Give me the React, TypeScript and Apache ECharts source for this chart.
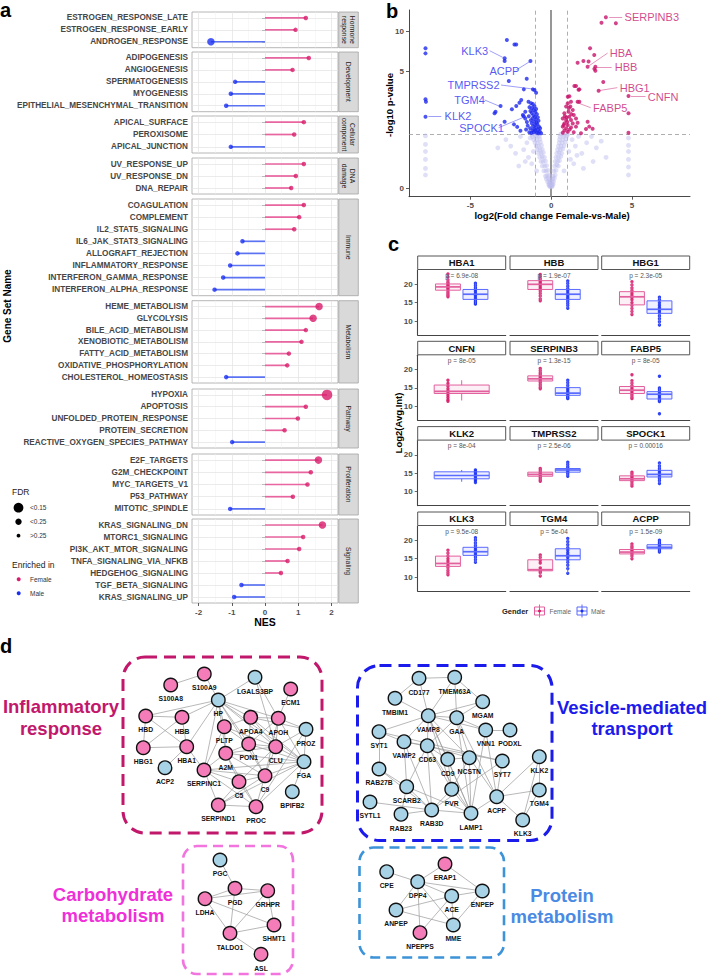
import React, { useEffect, useRef } from "react";
import * as echarts from "echarts";

const FONT = "'Liberation Sans', Arial, Helvetica, sans-serif";

// ---------------- Panel a : GSEA lollipops ----------------
const hormoneSets = ["ESTROGEN_RESPONSE_LATE", "ESTROGEN_RESPONSE_EARLY", "ANDROGEN_RESPONSE"];
const hormoneNES = [1.23, 0.92, -1.63];
const hormoneFDR = [">0.25", ">0.25", "<0.25"];
const developmentSets = ["ADIPOGENESIS", "ANGIOGENESIS", "SPERMATOGENESIS", "MYOGENESIS", "EPITHELIAL_MESENCHYMAL_TRANSITION"];
const developmentNES = [1.32, 0.83, -0.9, -1.03, -1.17];
const developmentFDR = [">0.25", ">0.25", ">0.25", ">0.25", ">0.25"];
const cellularSets = ["APICAL_SURFACE", "PEROXISOME", "APICAL_JUNCTION"];
const cellularNES = [1.17, 0.88, -1.03];
const cellularFDR = [">0.25", ">0.25", ">0.25"];
const dnaSets = ["UV_RESPONSE_UP", "UV_RESPONSE_DN", "DNA_REPAIR"];
const dnaNES = [1.17, 0.93, 0.79];
const dnaFDR = [">0.25", ">0.25", ">0.25"];
const immuneSets = ["COAGULATION", "COMPLEMENT", "IL2_STAT5_SIGNALING", "IL6_JAK_STAT3_SIGNALING", "ALLOGRAFT_REJECTION", "INFLAMMATORY_RESPONSE", "INTERFERON_GAMMA_RESPONSE", "INTERFERON_ALPHA_RESPONSE"];
const immuneNES = [1.17, 1.03, 0.88, -0.68, -0.83, -1.05, -1.26, -1.52];
const immuneFDR = [">0.25", ">0.25", ">0.25", ">0.25", ">0.25", ">0.25", ">0.25", ">0.25"];
const metabolismSets = ["HEME_METABOLISM", "GLYCOLYSIS", "BILE_ACID_METABOLISM", "XENOBIOTIC_METABOLISM", "FATTY_ACID_METABOLISM", "OXIDATIVE_PHOSPHORYLATION", "CHOLESTEROL_HOMEOSTASIS"];
const metabolismNES = [1.63, 1.45, 1.23, 1.1, 0.72, 0.67, -1.17];
const metabolismFDR = ["<0.25", "<0.25", ">0.25", ">0.25", ">0.25", ">0.25", ">0.25"];
const pathwaySets = ["HYPOXIA", "APOPTOSIS", "UNFOLDED_PROTEIN_RESPONSE", "PROTEIN_SECRETION", "REACTIVE_OXYGEN_SPECIES_PATHWAY"];
const pathwayNES = [1.87, 1.23, 0.99, 0.59, -0.99];
const pathwayFDR = ["<0.15", ">0.25", ">0.25", ">0.25", ">0.25"];
const proliferationSets = ["E2F_TARGETS", "G2M_CHECKPOINT", "MYC_TARGETS_V1", "P53_PATHWAY", "MITOTIC_SPINDLE"];
const proliferationNES = [1.61, 1.38, 1.28, 0.84, -1.05];
const proliferationFDR = ["<0.25", ">0.25", ">0.25", ">0.25", ">0.25"];
const signalingSets = ["KRAS_SIGNALING_DN", "MTORC1_SIGNALING", "PI3K_AKT_MTOR_SIGNALING", "TNFA_SIGNALING_VIA_NFKB", "HEDGEHOG_SIGNALING", "TGF_BETA_SIGNALING", "KRAS_SIGNALING_UP"];
const signalingNES = [1.73, 1.15, 1.03, 0.68, 0.48, -0.71, -0.93];
const signalingFDR = ["<0.25", ">0.25", ">0.25", ">0.25", ">0.25", ">0.25", ">0.25"];
const nesTicks = [-2, -1, 0, 1, 2];
const nesMinor = [-1.5, -0.5, 0.5, 1.5];

// ---------------- Panel b : volcano ----------------
const volcanoMale = [
  [-7.78, 7.5], [-7.78, 6.86], [-7.78, 2.89], [-7.75, 2.75], [-7.78, 1.98],
  [-2.74, 8.64], [-2.27, 8.0], [-2.16, 8.0], [-2.88, 6.29], [-2.88, 6.0], [-1.28, 6.0], [-2.62, 4.15], [-1.51, 4.33],
  [-1.69, 3.53], [-1.13, 3.53], [-1.03, 3.48], [-0.93, 3.3], [-3.13, 2.51], [-3.44, 2.22], [-3.5, 2.14], [-2.43, 2.34],
  [-2.16, 2.51], [-2.88, 1.76], [-1.96, 2.69], [-1.85, 2.85], [-1.4, 2.75], [-1.75, 2.06], [-1.6, 2.22],
  [-1.24, 2.66], [-1.13, 2.62], [-1.03, 2.5], [-1.34, 2.45], [-1.18, 2.4], [-0.93, 2.35], [-1.08, 2.3], [-1.28, 2.25],
  [-0.98, 2.2], [-1.2, 2.15], [-0.88, 2.1], [-1.1, 2.05], [-1.38, 2.0], [-1.0, 1.98], [-0.82, 1.95], [-1.15, 1.9],
  [-0.95, 1.86], [-1.25, 1.82], [-0.78, 1.8], [-1.05, 1.76], [-0.9, 1.72], [-1.2, 1.7], [-0.85, 1.66], [-1.0, 1.62],
  [-1.12, 1.58], [-0.75, 1.56], [-0.93, 1.52], [-1.3, 1.5], [-1.05, 1.47], [-0.82, 1.44], [-1.15, 1.42], [-0.97, 1.4],
  [-0.7, 1.38], [-1.08, 1.35], [-0.88, 1.33], [-1.22, 1.32], [-0.62, 1.31], [-0.78, 1.31], [-1.5, 1.75], [-1.6, 1.9],
  [-1.7, 2.0], [-2.1, 1.55], [-1.45, 1.6], [-1.55, 1.45], [-0.68, 1.5], [-2.3, 1.65], [-1.9, 1.4], [-1.35, 1.35],
];
const volcanoFemale = [
  [3.39, 12.65], [3.12, 11.57], [4.01, 11.45], [2.41, 7.5], [2.67, 6.67], [1.64, 5.81], [2.0, 6.0], [2.32, 5.94],
  [2.26, 5.41], [2.74, 5.41], [2.74, 5.03], [2.68, 5.2], [3.23, 4.07], [2.94, 3.44], [4.79, 3.09], [4.79, 2.14],
  [4.79, 1.33], [1.54, 3.77], [1.44, 3.77], [1.75, 3.53], [1.7, 3.5], [1.03, 3.05], [1.13, 3.08], [1.64, 2.75],
  [1.75, 2.75], [1.23, 2.75], [1.03, 2.66], [1.19, 2.48], [0.93, 2.48], [1.34, 2.3], [1.08, 2.22], [0.82, 2.14],
  [1.4, 2.06], [1.13, 1.98], [0.72, 1.9], [0.93, 1.83], [1.23, 1.83], [1.54, 1.9], [0.82, 1.69], [1.03, 1.62],
  [1.34, 1.69], [1.64, 1.72], [0.72, 1.56], [0.93, 1.5], [1.23, 1.53], [1.54, 1.56], [0.82, 1.41], [1.03, 1.37],
  [0.72, 1.33], [1.4, 1.35], [1.85, 1.31], [2.26, 1.76], [2.36, 1.56], [2.57, 1.48], [2.16, 1.47], [0.95, 1.95],
  [1.1, 2.4], [0.85, 2.0], [1.0, 1.75], [1.15, 1.45], [0.78, 1.62], [1.25, 2.1],
];
const volcanoOther = [
  [-0.05, 0.02], [0.03, 0.02], [-0.1, 0.03], [0.08, 0.03], [-0.15, 0.05], [-0.08, 0.06], [0.05, 0.05], [0.12, 0.06], [0.0, 0.04],
  [-0.22, 0.1], [-0.12, 0.09], [-0.04, 0.1], [0.06, 0.1], [0.15, 0.1], [-0.3, 0.15], [-0.18, 0.16], [-0.08, 0.14], [0.1, 0.15], [0.2, 0.16],
  [-0.35, 0.2], [-0.25, 0.21], [-0.12, 0.22], [0.12, 0.2], [0.25, 0.22], [-0.45, 0.3], [-0.32, 0.3], [-0.2, 0.31], [0.16, 0.3], [0.3, 0.31],
  [-0.55, 0.4], [-0.4, 0.4], [-0.28, 0.41], [0.22, 0.4], [0.35, 0.42], [0.45, 0.4], [-0.62, 0.5], [-0.5, 0.5], [-0.35, 0.51], [0.25, 0.5],
  [0.4, 0.5], [0.52, 0.52], [-0.7, 0.6], [-0.55, 0.61], [-0.42, 0.6], [0.3, 0.6], [0.45, 0.6], [0.6, 0.62], [-0.78, 0.7], [-0.62, 0.7],
  [-0.48, 0.72], [0.35, 0.7], [0.5, 0.71], [0.65, 0.7], [-0.85, 0.8], [-0.7, 0.8], [-0.55, 0.81], [0.4, 0.8], [0.57, 0.8], [0.72, 0.82],
  [-0.92, 0.9], [-0.78, 0.9], [-0.6, 0.92], [0.45, 0.9], [0.62, 0.9], [0.8, 0.91], [-1.0, 1.0], [-0.85, 1.0], [-0.66, 1.02], [0.5, 1.0],
  [0.68, 1.0], [0.88, 1.02], [-1.08, 1.1], [-0.9, 1.1], [-0.7, 1.12], [0.52, 1.1], [0.72, 1.1], [0.92, 1.12], [-1.15, 1.2], [-0.95, 1.2],
  [-0.75, 1.21], [0.55, 1.2], [0.78, 1.2], [0.98, 1.22], [-1.2, 1.28], [-1.0, 1.27], [-0.8, 1.28], [0.6, 1.28], [0.8, 1.27], [1.02, 1.28],
  [-7.78, 1.22], [-7.78, 0.95], [-7.78, 0.75], [-7.78, 0.55], [-7.78, 0.35], [-7.78, 0.22], [4.79, 1.15], [4.79, 0.92], [4.79, 0.75],
  [4.79, 0.55], [4.79, 0.38], [4.79, 0.22], [-2.8, 1.1], [-2.5, 0.9], [-2.2, 0.7], [-1.9, 1.2], [-1.7, 0.8], [-1.5, 1.0], [-1.4, 0.6],
  [-1.3, 1.15], [-3.3, 0.85], [-1.6, 0.5], [-1.2, 0.45], [-2.0, 0.4], [-1.1, 0.75], [-0.9, 0.3], [1.3, 1.1], [1.5, 0.9], [1.7, 1.2],
  [1.9, 0.7], [2.2, 1.0], [2.5, 1.2], [2.8, 0.85], [3.1, 1.05], [3.4, 0.6], [1.2, 0.55], [1.4, 0.45], [2.0, 0.35], [0.8, 0.3],
  [1.1, 0.75], [2.6, 0.5], [1.6, 0.65],
];
const volcanoLabels = ["KLK3", "ACPP", "TMPRSS2", "TGM4", "KLK2", "SPOCK1", "SERPINB3", "HBA", "HBB", "HBG1", "CNFN", "FABP5"];
const volcanoLabelAt = [[-5.6, 7.19], [-3.85, 5.03], [-6.44, 3.84], [-6.03, 2.85], [-6.63, 2.01], [-5.72, 1.52], [4.52, 12.65], [3.6, 6.94], [3.91, 5.41], [4.22, 3.65], [5.96, 3.01], [2.57, 2.42]];
const volcanoLeaders = [
  [[-3.81, 7.19], [-3.0, 6.4]], [[-2.16, 5.1], [-1.35, 5.9]], [[-3.1, 3.84], [-1.1, 3.55]], [[-4.12, 2.85], [-3.2, 2.5]],
  [[-7.6, 2.0], [-6.8, 2.0]], [[-3.25, 1.52], [-1.55, 2.0]], [[3.6, 12.65], [4.4, 12.65]], [[3.5, 6.9], [2.35, 5.5]],
  [[3.75, 5.4], [2.8, 5.4]], [[4.1, 3.65], [3.0, 3.45]], [[5.85, 3.05], [4.95, 3.05]], [[2.45, 2.42], [1.55, 2.72]],
];
const volcanoXTicks = [-5, 0, 5];
const volcanoYTicks = [0, 5, 10];

// ---------------- Panel c : boxplots ----------------
const boxGenes = ["HBA1", "HBB", "HBG1", "CNFN", "SERPINB3", "FABP5", "KLK2", "TMPRSS2", "SPOCK1", "KLK3", "TGM4", "ACPP"];
const boxPvalues = ["p = 6.9e-08", "p = 1.9e-07", "p = 2.3e-05", "p = 8e-05", "p = 1.3e-15", "p = 8e-05", "p = 8e-04", "p = 2.5e-06", "p = 0.00016", "p = 9.5e-08", "p = 5e-04", "p = 1.5e-09"];
const femaleBox = [
  [16.6, 18.4, 19.3, 20.1, 22.8], [15.5, 18.6, 20.0, 21.0, 22.7], [11.8, 14.4, 16.6, 18.0, 20.7], [11.6, 13.5, 14.1, 15.8, 17.1],
  [14.8, 16.9, 17.5, 18.3, 20.3], [12.1, 13.5, 14.4, 15.4, 17.0], null, [12.8, 14.2, 14.7, 15.3, 16.3],
  [11.5, 13.0, 13.5, 14.3, 15.3], [10.6, 12.9, 13.7, 15.7, 17.3], [10.3, 11.7, 12.0, 14.7, 16.0], [15.0, 16.3, 16.8, 17.5, 19.0],
];
const maleBox = [
  [14.6, 15.9, 17.3, 18.6, 20.3], [13.5, 15.9, 17.3, 18.6, 20.9], [8.9, 12.1, 13.2, 15.5, 16.5], null,
  [12.1, 13.0, 13.6, 15.1, 17.1], [11.3, 12.0, 13.3, 14.0, 15.0], [12.7, 13.5, 14.4, 15.4, 15.9], [14.2, 15.3, 15.9, 16.3, 18.0],
  [12.2, 14.0, 14.7, 15.8, 17.8], [14.0, 15.9, 16.9, 18.1, 20.7], [11.0, 14.7, 15.8, 17.7, 20.5], [16.8, 17.7, 18.1, 18.8, 20.0],
];
const femalePoints = [
  [22.8, 22.0, 21.2, 20.6, 20.2, 19.8, 19.5, 19.2, 18.9, 18.5, 18.0, 17.5, 17.0, 16.6],
  [22.7, 22.1, 21.5, 21.0, 20.6, 20.2, 19.8, 19.3, 18.8, 18.2, 17.5, 16.8, 16.0, 15.5],
  [20.7, 19.8, 19.0, 18.3, 17.6, 17.0, 16.4, 15.8, 15.0, 14.2, 13.4, 12.6, 11.8],
  [17.1, 16.2, 15.5, 14.8, 14.2, 13.6, 13.0, 12.4, 11.8, 11.4],
  [20.3, 19.7, 19.1, 18.6, 18.1, 17.7, 17.3, 16.9, 16.4, 15.8, 15.2, 14.8],
  [18.6, 17.0, 16.3, 15.6, 15.0, 14.5, 14.0, 13.5, 13.0, 12.5, 12.1],
  [],
  [16.3, 15.8, 15.3, 14.9, 14.6, 14.2, 13.7, 13.2, 12.8],
  [15.3, 14.8, 14.3, 13.9, 13.5, 13.1, 12.6, 12.0, 11.5],
  [17.3, 16.5, 15.7, 15.0, 14.3, 13.7, 13.1, 12.5, 11.8, 11.2, 10.6],
  [16.0, 15.3, 14.5, 13.8, 12.5, 12.0, 11.6, 11.2, 10.3],
  [19.0, 18.4, 17.9, 17.4, 17.0, 16.6, 16.2, 15.7, 15.0],
];
const malePoints = [
  [20.3, 19.7, 19.1, 18.6, 18.1, 17.6, 17.2, 16.8, 16.3, 15.8, 15.3, 14.9, 14.6],
  [20.9, 20.2, 19.5, 18.8, 18.2, 17.6, 17.0, 16.5, 16.0, 15.4, 14.8, 14.2, 13.5],
  [16.5, 15.8, 15.0, 14.3, 13.7, 13.2, 12.7, 12.1, 11.4, 10.6, 9.8, 8.9],
  [],
  [17.1, 16.4, 15.7, 15.0, 14.5, 14.0, 13.6, 13.2, 12.8, 12.4, 12.1],
  [18.2, 15.0, 14.5, 14.0, 13.5, 13.0, 12.5, 12.0, 11.6, 11.3, 8.0],
  [15.9, 15.5, 15.1, 14.7, 14.3, 13.9, 13.4, 13.0, 12.5],
  [18.0, 17.4, 16.8, 16.3, 16.0, 15.7, 15.3, 14.8, 14.2],
  [17.8, 17.0, 16.3, 15.7, 15.2, 14.7, 14.2, 13.6, 13.0, 12.2],
  [20.7, 20.0, 19.3, 18.6, 18.0, 17.5, 17.0, 16.5, 16.0, 15.4, 14.7, 14.0],
  [20.5, 19.6, 18.8, 18.0, 17.3, 16.6, 16.0, 15.4, 14.7, 14.0, 13.2, 12.3, 11.0],
  [20.0, 19.5, 19.1, 18.7, 18.3, 18.0, 17.7, 17.3, 16.8],
];
const boxYTicks = [10, 15, 20];

// ---------------- Panel d : networks ----------------
const inflammatoryNodes = [
  ["S100A9", 204.3, 674, "F"], ["S100A8", 170.7, 685, "F"], ["LGALS3BP", 255, 677.3, "M"], ["ECM1", 290.7, 689, "F"],
  ["HP", 218.3, 700, "M"], ["HBD", 145.7, 716, "F"], ["HBB", 182, 717.3, "F"], ["APOA4", 250.7, 717.3, "F"],
  ["APOH", 278.3, 718.3, "F"], ["PLTP", 224.3, 726.7, "F"], ["PROZ", 306, 729.3, "M"], ["HBG1", 143.3, 747.7, "F"],
  ["HBA1", 186.7, 746.7, "F"], ["PON1", 248.7, 744, "F"], ["CLU", 275.7, 746.7, "F"], ["A2M", 225.7, 753.3, "F"],
  ["FGA", 304, 761.7, "M"], ["ACP2", 165, 767.7, "M"], ["SERPINC1", 204, 770, "F"], ["C9", 265, 775.7, "F"],
  ["C5", 239, 781.7, "F"], ["BPIFB2", 292.3, 791.7, "M"], ["SERPIND1", 218.3, 805, "F"], ["PROC", 256, 806.7, "F"],
];
const vesicleNodes = [
  ["CD177", 419, 678.3, "M"], ["TMEM63A", 454.7, 677.3, "M"], ["TMBIM1", 395, 698.3, "M"], ["MGAM", 482.7, 701.7, "M"],
  ["VAMP8", 428.3, 715.7, "M"], ["GAA", 456.7, 717.7, "M"], ["SYT1", 379, 731.7, "M"], ["VNN1", 485.7, 730, "M"],
  ["PODXL", 510, 730, "M"], ["VAMP2", 404, 741.7, "M"], ["CD63", 427.3, 745.7, "M"], ["CD9", 447.7, 759.3, "M"],
  ["NCSTN", 469.3, 757.7, "M"], ["SYT7", 502.3, 761, "M"], ["KLK2", 539.3, 756.7, "M"], ["RAB27B", 379, 769, "M"],
  ["SCARB2", 406.7, 786.7, "M"], ["PVR", 451.7, 789.3, "M"], ["TGM4", 539.3, 790, "M"], ["ACPP", 496.7, 796.7, "M"],
  ["SYTL1", 370, 802, "M"], ["RAB3D", 431.7, 810, "M"], ["LAMP1", 471, 813.3, "M"], ["RAB23", 401, 814.3, "M"],
  ["KLK3", 522.7, 820, "M"],
];
const carbohydrateNodes = [
  ["PGC", 220, 860, "M"], ["PGD", 235, 888.3, "F"], ["GRHPR", 267.7, 890.7, "F"], ["LDHA", 205, 898.7, "F"],
  ["SHMT1", 274, 925, "F"], ["TALDO1", 230, 933.3, "F"], ["ASL", 261, 954.3, "F"],
];
const proteinNodes = [
  ["CPE", 386.7, 871.7, "M"], ["ERAP1", 445, 864, "F"], ["DPP4", 417.7, 881.7, "M"], ["ENPEP", 482.3, 891, "M"],
  ["ACE", 451.7, 896, "M"], ["ANPEP", 396, 910, "M"], ["MME", 453.3, 925, "M"], ["NPEPPS", 420, 932.7, "F"],
];
const inflammatoryEdges = [
  ["S100A8", "S100A9"], ["S100A9", "HP"], ["LGALS3BP", "HP"], ["LGALS3BP", "APOH"], ["LGALS3BP", "CLU"], ["ECM1", "APOH"],
  ["HBD", "HBB"], ["HBD", "HBA1"], ["HBD", "HBG1"], ["HBB", "HBA1"], ["HBB", "HBG1"], ["HBG1", "HBA1"], ["HBB", "HP"],
  ["HBA1", "HP"], ["HBD", "HP"], ["HBA1", "ACP2"], ["HP", "APOA4"], ["HP", "APOH"], ["HP", "PLTP"], ["HP", "PON1"],
  ["HP", "CLU"], ["HP", "A2M"], ["HP", "FGA"], ["HP", "SERPINC1"], ["HP", "C9"], ["APOA4", "APOH"], ["APOA4", "PLTP"],
  ["APOA4", "PON1"], ["APOA4", "CLU"], ["APOA4", "FGA"], ["APOA4", "PROZ"], ["APOH", "CLU"], ["APOH", "PON1"],
  ["APOH", "FGA"], ["APOH", "PROZ"], ["APOH", "C9"], ["PLTP", "PON1"], ["PLTP", "CLU"], ["PLTP", "A2M"],
  ["PLTP", "SERPINC1"], ["PON1", "CLU"], ["PON1", "A2M"], ["PON1", "FGA"], ["PON1", "C9"], ["CLU", "FGA"],
  ["CLU", "C9"], ["CLU", "C5"], ["CLU", "A2M"], ["CLU", "PROZ"], ["A2M", "SERPINC1"], ["A2M", "C5"], ["A2M", "C9"],
  ["A2M", "FGA"], ["A2M", "PROC"], ["SERPINC1", "C5"], ["SERPINC1", "C9"], ["SERPINC1", "SERPIND1"], ["SERPINC1", "PROC"],
  ["SERPINC1", "FGA"], ["SERPINC1", "HBA1"], ["C5", "C9"], ["C5", "SERPIND1"], ["C5", "PROC"], ["C9", "FGA"],
  ["C9", "PROC"], ["C9", "SERPIND1"], ["FGA", "PROZ"], ["FGA", "PROC"], ["FGA", "SERPIND1"], ["FGA", "BPIFB2"],
  ["PROC", "PROZ"], ["SERPIND1", "PROC"],
];
const vesicleEdges = [
  ["CD177", "TMEM63A"], ["CD177", "VAMP8"], ["CD177", "TMBIM1"], ["TMEM63A", "MGAM"], ["TMEM63A", "VAMP8"], ["TMEM63A", "GAA"],
  ["TMBIM1", "VAMP8"], ["MGAM", "GAA"], ["MGAM", "VAMP8"], ["VAMP8", "GAA"], ["VAMP8", "SYT1"], ["VAMP8", "VAMP2"],
  ["VAMP8", "CD63"], ["VAMP8", "CD9"], ["VAMP8", "NCSTN"], ["VAMP8", "LAMP1"], ["VAMP8", "VNN1"], ["VAMP8", "PVR"],
  ["GAA", "CD63"], ["GAA", "NCSTN"], ["GAA", "LAMP1"], ["GAA", "ACPP"], ["GAA", "VNN1"], ["SYT1", "VAMP2"], ["SYT1", "SYT7"],
  ["SYT1", "RAB27B"], ["VAMP2", "CD63"], ["VAMP2", "SCARB2"], ["VAMP2", "RAB3D"], ["VAMP2", "SYT7"], ["CD63", "CD9"],
  ["CD63", "NCSTN"], ["CD63", "LAMP1"], ["CD63", "SCARB2"], ["CD63", "RAB3D"], ["CD63", "PVR"], ["CD9", "NCSTN"],
  ["CD9", "LAMP1"], ["CD9", "PVR"], ["NCSTN", "LAMP1"], ["NCSTN", "ACPP"], ["NCSTN", "PVR"], ["VNN1", "LAMP1"],
  ["VNN1", "ACPP"], ["SYT7", "RAB3D"], ["SYT7", "ACPP"], ["KLK2", "KLK3"], ["KLK2", "TGM4"], ["KLK2", "ACPP"],
  ["TGM4", "KLK3"], ["TGM4", "ACPP"], ["ACPP", "KLK3"], ["ACPP", "LAMP1"], ["RAB27B", "SCARB2"], ["RAB27B", "RAB3D"],
  ["SCARB2", "LAMP1"], ["SCARB2", "RAB3D"], ["SCARB2", "RAB23"], ["RAB3D", "RAB23"], ["RAB3D", "LAMP1"],
  ["RAB3D", "SYTL1"], ["PVR", "LAMP1"], ["PVR", "RAB3D"], ["PODXL", "VNN1"],
];
const carbohydrateEdges = [
  ["PGC", "PGD"], ["PGD", "GRHPR"], ["PGD", "LDHA"], ["PGD", "TALDO1"], ["LDHA", "TALDO1"], ["LDHA", "SHMT1"],
  ["GRHPR", "SHMT1"], ["GRHPR", "TALDO1"], ["SHMT1", "TALDO1"], ["TALDO1", "ASL"], ["LDHA", "GRHPR"],
];
const proteinEdges = [
  ["CPE", "DPP4"], ["ERAP1", "DPP4"], ["ERAP1", "ENPEP"], ["DPP4", "ACE"], ["DPP4", "ANPEP"], ["DPP4", "MME"],
  ["DPP4", "ENPEP"], ["DPP4", "NPEPPS"], ["ACE", "ENPEP"], ["ACE", "MME"], ["ACE", "ANPEP"], ["ACE", "NPEPPS"],
  ["ANPEP", "MME"], ["MME", "ENPEP"],
];

// ---------------- styling constants ----------------
const PINK_DOT = "#D81B6A";
const BLUE_DOT = "#1A2FF2";
const PINK_LINE = "#E8659F";
const BLUE_LINE = "#5B73F2";
const fdrSize: any = { "<0.15": 10.5, "<0.25": 7.5, ">0.25": 4.5 };

function txt(x: number, y: number, text: string, s: any = {}) {
  const align = s.align || "left";
  const va = s.verticalAlign || "middle";
  const style: any = {
    text, fontFamily: FONT, fontSize: s.fontSize || 10, fontWeight: s.fontWeight || "normal", fill: s.fill || "#000",
    align, verticalAlign: va, textAlign: align, textVerticalAlign: va,
  };
  if (s.lineHeight) style.lineHeight = s.lineHeight;
  return { type: "text", x, y, rotation: s.rotation || 0, silent: true, z: 50, style };
}

function buildOption() {
  const grids: any[] = [];
  const xAxes: any[] = [];
  const yAxes: any[] = [];
  const series: any[] = [];
  const graphics: any[] = [];

  // ===== Panel a =====
  const facets = [
    { label: "Hormone\nresponse", sets: hormoneSets, nes: hormoneNES, fdr: hormoneFDR },
    { label: "Development", sets: developmentSets, nes: developmentNES, fdr: developmentFDR },
    { label: "Cellular\ncomponent", sets: cellularSets, nes: cellularNES, fdr: cellularFDR },
    { label: "DNA\ndamage", sets: dnaSets, nes: dnaNES, fdr: dnaFDR },
    { label: "Immune", sets: immuneSets, nes: immuneNES, fdr: immuneFDR },
    { label: "Metabolism", sets: metabolismSets, nes: metabolismNES, fdr: metabolismFDR },
    { label: "Pathway", sets: pathwaySets, nes: pathwayNES, fdr: pathwayFDR },
    { label: "Proliferation", sets: proliferationSets, nes: proliferationNES, fdr: proliferationFDR },
    { label: "Signaling", sets: signalingSets, nes: signalingNES, fdr: signalingFDR },
  ];
  const facetTops = [12, 52, 116, 158, 199, 300.7, 389, 454, 519];
  const facetBottoms = [47.7, 111.7, 153, 194, 295.7, 383, 448, 515, 603];
  const aLeft = 192, aWidth = 146;
  facets.forEach((f, i) => {
    const gi = grids.length;
    const last = i === facets.length - 1;
    const top = facetTops[i], h = facetBottoms[i] - facetTops[i];
    grids.push({ left: aLeft, top, width: aWidth, height: h, show: true, borderColor: "#a3a3a3", borderWidth: 0.8, backgroundColor: "#fff", containLabel: false });
    xAxes.push({
      gridIndex: gi, type: "value", min: -2.2, max: 2.2,
      axisLine: { show: false }, splitLine: { show: false },
      axisTick: { show: last, customValues: nesTicks, length: 3, lineStyle: { color: "#333", width: 0.8 } },
      axisLabel: { show: last, customValues: nesTicks, fontSize: 8, fontWeight: "bold", color: "#4d4d4d", margin: 5, fontFamily: FONT },
    });
    yAxes.push({
      gridIndex: gi, type: "category", inverse: true, data: f.sets,
      axisLine: { show: false }, splitLine: { show: false },
      axisTick: { show: true, alignWithLabel: true, length: 3, lineStyle: { color: "#333", width: 0.8 } },
      axisLabel: { interval: 0, fontSize: 8.2, fontWeight: "bold", color: "#474747", margin: 4, fontFamily: FONT },
    });
    series.push({
      type: "line", xAxisIndex: gi, yAxisIndex: gi, data: [], silent: true, z: 1,
      markLine: {
        silent: true, symbol: ["none", "none"], label: { show: false }, z: 1,
        data: [
          ...nesTicks.map((v) => ({ xAxis: v, lineStyle: { color: "#e3e3e3", width: 0.7, type: "solid" } })),
          ...nesMinor.map((v) => ({ xAxis: v, lineStyle: { color: "#f1f1f1", width: 0.5, type: "solid" } })),
          ...f.sets.map((_s, k) => ({ yAxis: k, lineStyle: { color: "#e3e3e3", width: 0.7, type: "solid" } })),
        ],
      },
    });
    series.push({
      type: "bar", xAxisIndex: gi, yAxisIndex: gi, barWidth: 1.7, z: 3, silent: true,
      data: f.nes.map((v) => ({ value: v, itemStyle: { color: v > 0 ? PINK_LINE : BLUE_LINE } })),
    });
    series.push({
      type: "scatter", xAxisIndex: gi, yAxisIndex: gi, z: 4, silent: true,
      data: f.nes.map((v, k) => ({ value: [v, k], symbolSize: fdrSize[f.fdr[k]], itemStyle: { color: v > 0 ? PINK_DOT : BLUE_DOT } })),
    });
    graphics.push({ type: "rect", silent: true, z: 40, shape: { x: aLeft + aWidth + 0.8, y: top, width: 19.5, height: h }, style: { fill: "#d9d9d9", stroke: "#a3a3a3", lineWidth: 0.8 } });
    graphics.push(txt(aLeft + aWidth + 10.5, top + h / 2, f.label, { rotation: -Math.PI / 2, align: "center", fontSize: 6.8, fill: "#1a1a1a", lineHeight: 8 }));
  });
  graphics.push(txt(0, 10, "a", { fontSize: 20, fontWeight: "bold" }));
  graphics.push(txt(7.5, 306, "Gene Set Name", { rotation: Math.PI / 2, align: "center", fontSize: 10, fontWeight: "bold" }));
  graphics.push(txt(265, 622, "NES", { align: "center", fontSize: 10.5, fontWeight: "bold" }));
  graphics.push(txt(12, 492, "FDR", { fontSize: 8.5, fill: "#222" }));
  [["<0.15", 507.7, 4.9], ["<0.25", 521.7, 3.2], [">0.25", 535.7, 1.9]].forEach(([t, y, r]: any) => {
    graphics.push({ type: "circle", silent: true, z: 40, shape: { cx: 18.5, cy: y, r }, style: { fill: "#000" } });
    graphics.push(txt(30, y, t, { fontSize: 6.5, fill: "#333" }));
  });
  graphics.push(txt(12, 565, "Enriched in", { fontSize: 8.5, fill: "#222" }));
  graphics.push({ type: "circle", silent: true, z: 40, shape: { cx: 18.7, cy: 579.3, r: 2 }, style: { fill: PINK_DOT } });
  graphics.push(txt(30, 579.3, "Female", { fontSize: 6.5, fill: "#333" }));
  graphics.push({ type: "circle", silent: true, z: 40, shape: { cx: 18.7, cy: 593.3, r: 2 }, style: { fill: BLUE_DOT } });
  graphics.push(txt(30, 593.3, "Male", { fontSize: 6.5, fill: "#333" }));

  // ===== Panel b =====
  const bi = grids.length;
  const L = (p: number) => Math.log1p(p);
  grids.push({ left: 409, top: 10, width: 281, height: 186.7 });
  xAxes.push({
    gridIndex: bi, type: "value", min: -8.8, max: 8.6,
    axisLine: { show: true, onZero: false, lineStyle: { color: "#333", width: 0.9 } },
    axisTick: { show: true, customValues: volcanoXTicks, length: 3, lineStyle: { color: "#333", width: 0.8 } },
    axisLabel: { customValues: volcanoXTicks, fontSize: 8, fontWeight: "bold", color: "#4d4d4d", margin: 5, fontFamily: FONT },
    splitLine: { show: false },
  });
  yAxes.push({
    gridIndex: bi, type: "value", min: -0.133, max: 2.726,
    axisLine: { show: true, onZero: false, lineStyle: { color: "#333", width: 0.9 } },
    axisTick: { show: true, customValues: volcanoYTicks.map(L), length: 3, lineStyle: { color: "#333", width: 0.8 } },
    axisLabel: { customValues: volcanoYTicks.map(L), formatter: (v: number) => String(Math.round(Math.expm1(v))), fontSize: 8, fontWeight: "bold", color: "#4d4d4d", margin: 5, fontFamily: FONT },
    splitLine: { show: false },
  });
  series.push({
    type: "scatter", xAxisIndex: bi, yAxisIndex: bi, z: 2, silent: true, symbolSize: 4.8,
    itemStyle: { color: "rgba(188,188,238,0.6)" },
    data: volcanoOther.map(([x, p]) => [x, L(p)]),
    markLine: {
      silent: true, symbol: ["none", "none"], label: { show: false }, z: 1,
      data: [
        { xAxis: 0, lineStyle: { color: "#8c8c8c", width: 1.8, type: "solid" } },
        { xAxis: -1, lineStyle: { color: "#9a9a9a", width: 0.8, type: [4, 3] } },
        { xAxis: 1, lineStyle: { color: "#9a9a9a", width: 0.8, type: [4, 3] } },
        { yAxis: L(1.3), lineStyle: { color: "#9a9a9a", width: 0.8, type: [4, 3] } },
      ],
    },
  });
  series.push({
    type: "scatter", xAxisIndex: bi, yAxisIndex: bi, z: 3, silent: true, symbolSize: 4,
    itemStyle: { color: "#1F2BEE" }, data: volcanoMale.map(([x, p]) => [x, L(p)]),
  });
  series.push({
    type: "scatter", xAxisIndex: bi, yAxisIndex: bi, z: 3, silent: true, symbolSize: 4,
    itemStyle: { color: "#C8146C" }, data: volcanoFemale.map(([x, p]) => [x, L(p)]),
  });
  series.push({
    type: "lines", coordinateSystem: "cartesian2d", xAxisIndex: bi, yAxisIndex: bi, z: 4, silent: true,
    lineStyle: { width: 0.9 },
    data: volcanoLeaders.map((seg, k) => ({
      coords: seg.map(([x, p]) => [x, L(p)]),
      lineStyle: { color: volcanoLabelAt[k][0] < 0 ? "#2B2BF2" : "#C8146C", width: 0.9 },
    })),
  });
  series.push({
    type: "scatter", xAxisIndex: bi, yAxisIndex: bi, z: 5, silent: true, symbolSize: 1,
    itemStyle: { color: "rgba(0,0,0,0)" },
    label: { show: true, position: "right", distance: 0, formatter: "{b}", fontSize: 11, fontFamily: FONT },
    data: volcanoLabels.map((n, k) => ({
      name: n, value: [volcanoLabelAt[k][0], L(volcanoLabelAt[k][1])],
      label: { color: volcanoLabelAt[k][0] < 0 ? "#2B2BF2" : "#C8146C" },
    })),
  });
  graphics.push(txt(386, 11, "b", { fontSize: 20, fontWeight: "bold" }));
  graphics.push(txt(389, 105, "-log10 p-value", { rotation: Math.PI / 2, align: "center", fontSize: 9.5, fontWeight: "bold" }));
  graphics.push(txt(552, 215, "log2(Fold change Female-vs-Male)", { align: "center", fontSize: 9.5, fontWeight: "bold" }));

  // ===== Panel c =====
  const colX = [417.7, 510, 601.7];
  const colW = 88;
  const rowTop = [270, 355.3, 440.6, 526];
  const panelH = 65;
  const FPOS = 0.8125, MPOS = 1.1875;
  boxGenes.forEach((g, i) => {
    const row = Math.floor(i / 3), col = i % 3;
    const gi = grids.length;
    const left = colX[col], top = rowTop[row];
    grids.push({ left, top, width: colW, height: panelH });
    xAxes.push({
      gridIndex: gi, type: "value", min: 0.4, max: 1.6,
      axisLine: { show: true, onZero: false, lineStyle: { color: "#444", width: 1.1 } },
      axisTick: { show: false }, axisLabel: { show: false }, splitLine: { show: false },
    });
    const first = col === 0;
    yAxes.push({
      gridIndex: gi, type: "value", min: 6.2, max: 23.9,
      axisLine: { show: first, onZero: false, lineStyle: { color: "#444", width: 1.1 } },
      axisTick: { show: first, customValues: boxYTicks, length: 3, lineStyle: { color: "#444", width: 0.8 } },
      axisLabel: { show: first, customValues: boxYTicks, fontSize: 8, fontWeight: "bold", color: "#4d4d4d", margin: 5, fontFamily: FONT },
      splitLine: { show: false },
    });
    series.push({
      type: "scatter", xAxisIndex: gi, yAxisIndex: gi, z: 2, silent: true, symbolSize: 3.4,
      itemStyle: { color: PINK_DOT, opacity: 0.9 }, data: femalePoints[i].map((v) => [FPOS, v]),
    });
    series.push({
      type: "scatter", xAxisIndex: gi, yAxisIndex: gi, z: 2, silent: true, symbolSize: 3.4,
      itemStyle: { color: BLUE_DOT, opacity: 0.9 }, data: malePoints[i].map((v) => [MPOS, v]),
    });
    const boxes: any[] = [];
    const fb = femaleBox[i], mb = maleBox[i];
    if (fb && mb) {
      boxes.push([FPOS, 0.17, ...fb, 0]);
      boxes.push([MPOS, 0.17, ...mb, 1]);
    } else if (fb) {
      boxes.push([1.0, 0.375, ...fb, 0]);
    } else if (mb) {
      boxes.push([1.0, 0.375, ...mb, 1]);
    }
    series.push({
      type: "custom", xAxisIndex: gi, yAxisIndex: gi, z: 3, silent: true,
      encode: { x: 0, y: [2, 3, 4, 5, 6] },
      data: boxes,
      renderItem: (_params: any, api: any) => {
        const xc = api.value(0), hw = api.value(1);
        const stroke = api.value(7) === 0 ? "#E2609D" : "#5A6BFF";
        const fill = api.value(7) === 0 ? "rgba(226,96,157,0.10)" : "rgba(90,107,255,0.10)";
        const lo = api.coord([xc, api.value(2)]);
        const q1 = api.coord([xc - hw, api.value(3)]);
        const md = api.coord([xc + hw, api.value(4)]);
        const q3 = api.coord([xc + hw, api.value(5)]);
        const hi = api.coord([xc, api.value(6)]);
        const lx = q1[0], rx = q3[0], cx = lo[0];
        return {
          type: "group",
          children: [
            { type: "line", shape: { x1: cx, y1: hi[1], x2: cx, y2: q3[1] }, style: { stroke, lineWidth: 1 } },
            { type: "line", shape: { x1: cx, y1: q1[1], x2: cx, y2: lo[1] }, style: { stroke, lineWidth: 1 } },
            { type: "rect", shape: { x: lx, y: q3[1], width: rx - lx, height: q1[1] - q3[1] }, style: { fill, stroke, lineWidth: 1 } },
            { type: "line", shape: { x1: lx, y1: md[1], x2: rx, y2: md[1] }, style: { stroke, lineWidth: 1.7 } },
          ],
        };
      },
    });
    graphics.push({ type: "rect", silent: true, z: 40, shape: { x: left, y: top - 14, width: colW, height: 13.5 }, style: { fill: "#fff", stroke: "#555", lineWidth: 1 } });
    graphics.push(txt(left + colW / 2, top - 7.2, g, { align: "center", fontSize: 9.5, fontWeight: "bold", fill: "#111" }));
    graphics.push(txt(left + colW / 2, top + 5, boxPvalues[i], { align: "center", fontSize: 6.5, fill: "#555" }));
  });
  graphics.push(txt(388, 243.5, "c", { fontSize: 20, fontWeight: "bold" }));
  graphics.push(txt(398, 423, "Log2(Avg.Int)", { rotation: Math.PI / 2, align: "center", fontSize: 9.5, fontWeight: "bold" }));
  graphics.push(txt(502, 611, "Gender", { fontSize: 7.5, fontWeight: "bold", fill: "#222" }));
  [[534.5, "#E2609D", PINK_DOT, 549.5, "Female"], [577, "#5A6BFF", BLUE_DOT, 591, "Male"]].forEach(([x, st, dot, tx, lab]: any) => {
    graphics.push({ type: "rect", silent: true, z: 40, shape: { x, y: 607, width: 10, height: 8 }, style: { fill: "#fff", stroke: st, lineWidth: 1 } });
    graphics.push({ type: "line", silent: true, z: 40, shape: { x1: x, y1: 611, x2: x + 10, y2: 611 }, style: { stroke: st, lineWidth: 1 } });
    graphics.push({ type: "line", silent: true, z: 40, shape: { x1: x + 5, y1: 604.5, x2: x + 5, y2: 617.5 }, style: { stroke: st, lineWidth: 1 } });
    graphics.push({ type: "circle", silent: true, z: 41, shape: { cx: x + 5, cy: 611, r: 1.5 }, style: { fill: dot } });
    graphics.push(txt(tx, 611, lab, { fontSize: 6.5, fill: "#666" }));
  });

  // ===== Panel d =====
  const di = grids.length;
  grids.push({ left: 0, top: 0, width: 708, height: 976 });
  xAxes.push({ gridIndex: di, type: "value", min: 0, max: 708, show: false });
  yAxes.push({ gridIndex: di, type: "value", min: 0, max: 976, inverse: true, show: false });
  const allNodes = [...inflammatoryNodes, ...vesicleNodes, ...carbohydrateNodes, ...proteinNodes];
  const allEdges = [...inflammatoryEdges, ...vesicleEdges, ...carbohydrateEdges, ...proteinEdges];
  series.push({
    type: "graph", coordinateSystem: "cartesian2d", xAxisIndex: di, yAxisIndex: di, layout: "none", z: 5, silent: true,
    symbol: "circle", symbolSize: 13.5,
    itemStyle: { borderColor: "#111", borderWidth: 1.4 },
    label: { show: true, position: "bottom", distance: 2.8, fontSize: 6.8, fontWeight: "bold", color: "#111", fontFamily: FONT },
    lineStyle: { color: "#9c9c9c", width: 0.85, opacity: 0.85, curveness: 0 },
    data: allNodes.map(([n, x, y, g]: any) => ({ name: n, value: [x, y], itemStyle: { color: g === "F" ? "#F47CB8" : "#A8D3E6" } })),
    links: allEdges.map(([s, t]) => ({ source: s, target: t })),
  });
  graphics.push({ type: "rect", silent: true, z: 1, shape: { x: 123, y: 657, width: 199, height: 176, r: 22 }, style: { fill: "none", stroke: "#C2186C", lineWidth: 3, lineDash: [12, 7] } });
  graphics.push({ type: "rect", silent: true, z: 1, shape: { x: 357.5, y: 665.5, width: 194.5, height: 175, r: 22 }, style: { fill: "none", stroke: "#1B1BEB", lineWidth: 3, lineDash: [12, 7] } });
  graphics.push({ type: "rect", silent: true, z: 1, shape: { x: 183, y: 846, width: 110, height: 128, r: 14 }, style: { fill: "none", stroke: "#F274DF", lineWidth: 2.6, lineDash: [10, 6] } });
  graphics.push({ type: "rect", silent: true, z: 1, shape: { x: 359.5, y: 847.5, width: 144.5, height: 110, r: 14 }, style: { fill: "none", stroke: "#3C93D8", lineWidth: 2.6, lineDash: [10, 6] } });
  graphics.push(txt(0, 646, "d", { fontSize: 20, fontWeight: "bold" }));
  graphics.push(txt(61, 717.5, "Inflammatory\nresponse", { align: "center", fontSize: 18.5, fontWeight: "bold", fill: "#C2186C", lineHeight: 21.6 }));
  graphics.push(txt(632, 718, "Vesicle-mediated\ntransport", { align: "center", fontSize: 18.5, fontWeight: "bold", fill: "#1B1BEB", lineHeight: 21 }));
  graphics.push(txt(113, 905, "Carbohydrate\nmetabolism", { align: "center", fontSize: 18.5, fontWeight: "bold", fill: "#F02FD9", lineHeight: 21 }));
  graphics.push(txt(562, 906, "Protein\nmetabolism", { align: "center", fontSize: 18.5, fontWeight: "bold", fill: "#4A8AE3", lineHeight: 21.5 }));

  return {
    animation: false,
    backgroundColor: "#fff",
    textStyle: { fontFamily: FONT },
    grid: grids,
    xAxis: xAxes,
    yAxis: yAxes,
    series,
    graphic: graphics,
  };
}

export default function App() {
  const ref = useRef<HTMLDivElement>(null);
  useEffect(() => {
    if (!ref.current) return;
    const chart = echarts.init(ref.current, undefined, { renderer: "svg" });
    chart.setOption(buildOption() as any);
    return () => chart.dispose();
  }, []);
  return <div ref={ref} style={{ position: "absolute", left: 0, top: 0, width: 708, height: 976, background: "#fff" }} />;
}
